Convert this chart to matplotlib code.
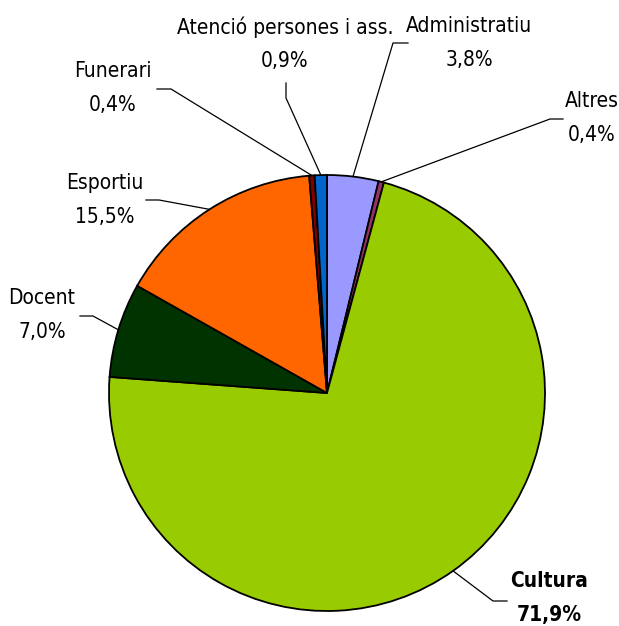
import numpy as np
import matplotlib
matplotlib.use("Agg")
import matplotlib.pyplot as plt
from matplotlib import font_manager

# data, clockwise from 12 o'clock
categories = ["Administratiu", "Altres", "Cultura", "Docent", "Esportiu",
              "Funerari", "Atenció persones i ass."]
shares = [3.8, 0.4, 71.9, 7.0, 15.5, 0.4, 0.9]
share_labels = ["3,8%", "0,4%", "71,9%", "7,0%", "15,5%", "0,4%", "0,9%"]
colors = ["#9999FF", "#993366", "#99CC00", "#003300", "#FF6600",
          "#800000", "#0066CC"]

# pick a narrow face if one is around
fonts = {f.name: f for f in font_manager.fontManager.ttflist}
family, stretch = "DejaVu Sans", "condensed"
for cand in ["Liberation Sans Narrow", "Arial Narrow", "DejaVu Sans Condensed"]:
    if cand in fonts:
        family, stretch = cand, "normal"
        break
plt.rcParams["font.family"] = [family, "DejaVu Sans"]

W, H = 619, 626
cx, cy, R = 327, 393, 218


def to_data(px, py):
    return (px - cx) / R, (cy - py) / R


fig = plt.figure(figsize=(W / 100, H / 100), dpi=100)
ax = fig.add_axes([0, 0, 1, 1])

wedges, _ = ax.pie(shares, colors=colors, startangle=90, counterclock=False,
                   radius=1, center=(0, 0), frame=True,
                   wedgeprops=dict(edgecolor="black", linewidth=1.3))
ax.set_xlim(-cx / R, (W - cx) / R)
ax.set_ylim(-(H - cy) / R, cy / R)
ax.set_aspect("auto")
ax.axis("off")

# label layout in pixels: text centre, leader elbow points
layout = {
    "Administratiu": dict(text=(469, 43), pts=[(408, 43), (393, 43)]),
    "Altres": dict(text=(592, 118), pts=[(563, 119), (550, 119)]),
    "Cultura": dict(text=(549, 598), pts=[(507, 601), (493, 601)]),
    "Docent": dict(text=(42, 315), pts=[(80, 316), (93, 316)]),
    "Esportiu": dict(text=(105, 200), pts=[(146, 200), (159, 200)]),
    "Funerari": dict(text=(113, 88), pts=[(157, 89), (171, 89)]),
    "Atenció persones i ass.": dict(text=(285, 44), pts=[(286, 83), (286, 98)]),
}

for w, name, lab in zip(wedges, categories, share_labels):
    mid = np.deg2rad((w.theta1 + w.theta2) / 2)
    ex, ey = np.cos(mid), np.sin(mid)
    spec = layout[name]
    px = [to_data(*p) for p in spec["pts"]] + [(ex, ey)]
    ax.plot([p[0] for p in px], [p[1] for p in px], color="black", lw=0.9,
            zorder=0.5)
    tx, ty = spec["text"]
    bold = "bold" if name == "Cultura" else "normal"
    for s, dy in [(name, -17), (lab, 17)]:
        x, y = to_data(tx, ty + dy)
        ax.text(x, y, s, ha="center", va="center", fontsize=15,
                fontweight=bold, fontstretch=stretch)

fig.savefig("out.png", dpi=100)
